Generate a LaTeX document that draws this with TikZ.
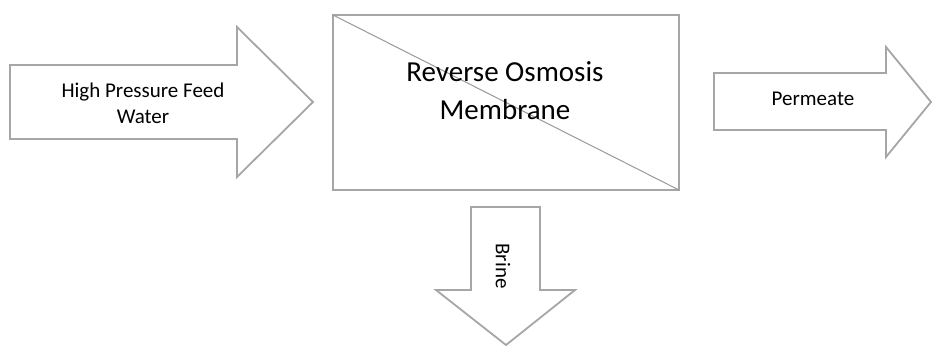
\documentclass[tikz,border=0pt]{standalone}
\usepackage{fontspec}
\setmainfont{Carlito}
\begin{document}
\begin{tikzpicture}[x=1pt,y=-1pt,
  blockshape/.style={draw=black!35, line width=1.8pt, fill=white, line join=miter},
  divider/.style={draw=black!40, line width=1pt},
  smalltext/.style={inner sep=0pt, align=center, font=\fontsize{21}{26}\selectfont},
  bigtext/.style={inner sep=0pt, align=center, font=\fontsize{29}{38}\selectfont}]
\useasboundingbox (0,0) rectangle (933,356);
% feed arrow
\draw[blockshape] (10,65) -- (237,65) -- (237,27) -- (313,102) -- (237,177) -- (237,139) -- (10,139) -- cycle;
\node[smalltext] (feed) at (143,103) {High Pressure Feed\\Water};
% membrane box
\draw[blockshape] (333,15) rectangle (679,190);
\coordinate (mtl) at (333,15);
\coordinate (mbr) at (679,190);
\draw[divider] (mtl) -- (mbr);
\node[bigtext] (membrane) at (505,91) {Reverse Osmosis\\Membrane};
% permeate arrow
\draw[blockshape] (714,73) -- (886,73) -- (886,47) -- (931,102) -- (886,157) -- (886,130) -- (714,130) -- cycle;
\node[smalltext, anchor=base] (permeate) at (813,105) {Permeate};
% brine arrow
\draw[blockshape] (471,207) -- (540,207) -- (540,290) -- (575,290) -- (506,345) -- (436,290) -- (471,290) -- cycle;
\node[smalltext, rotate=-90] (brine) at (503,266) {Brine};
\end{tikzpicture}
\end{document}
